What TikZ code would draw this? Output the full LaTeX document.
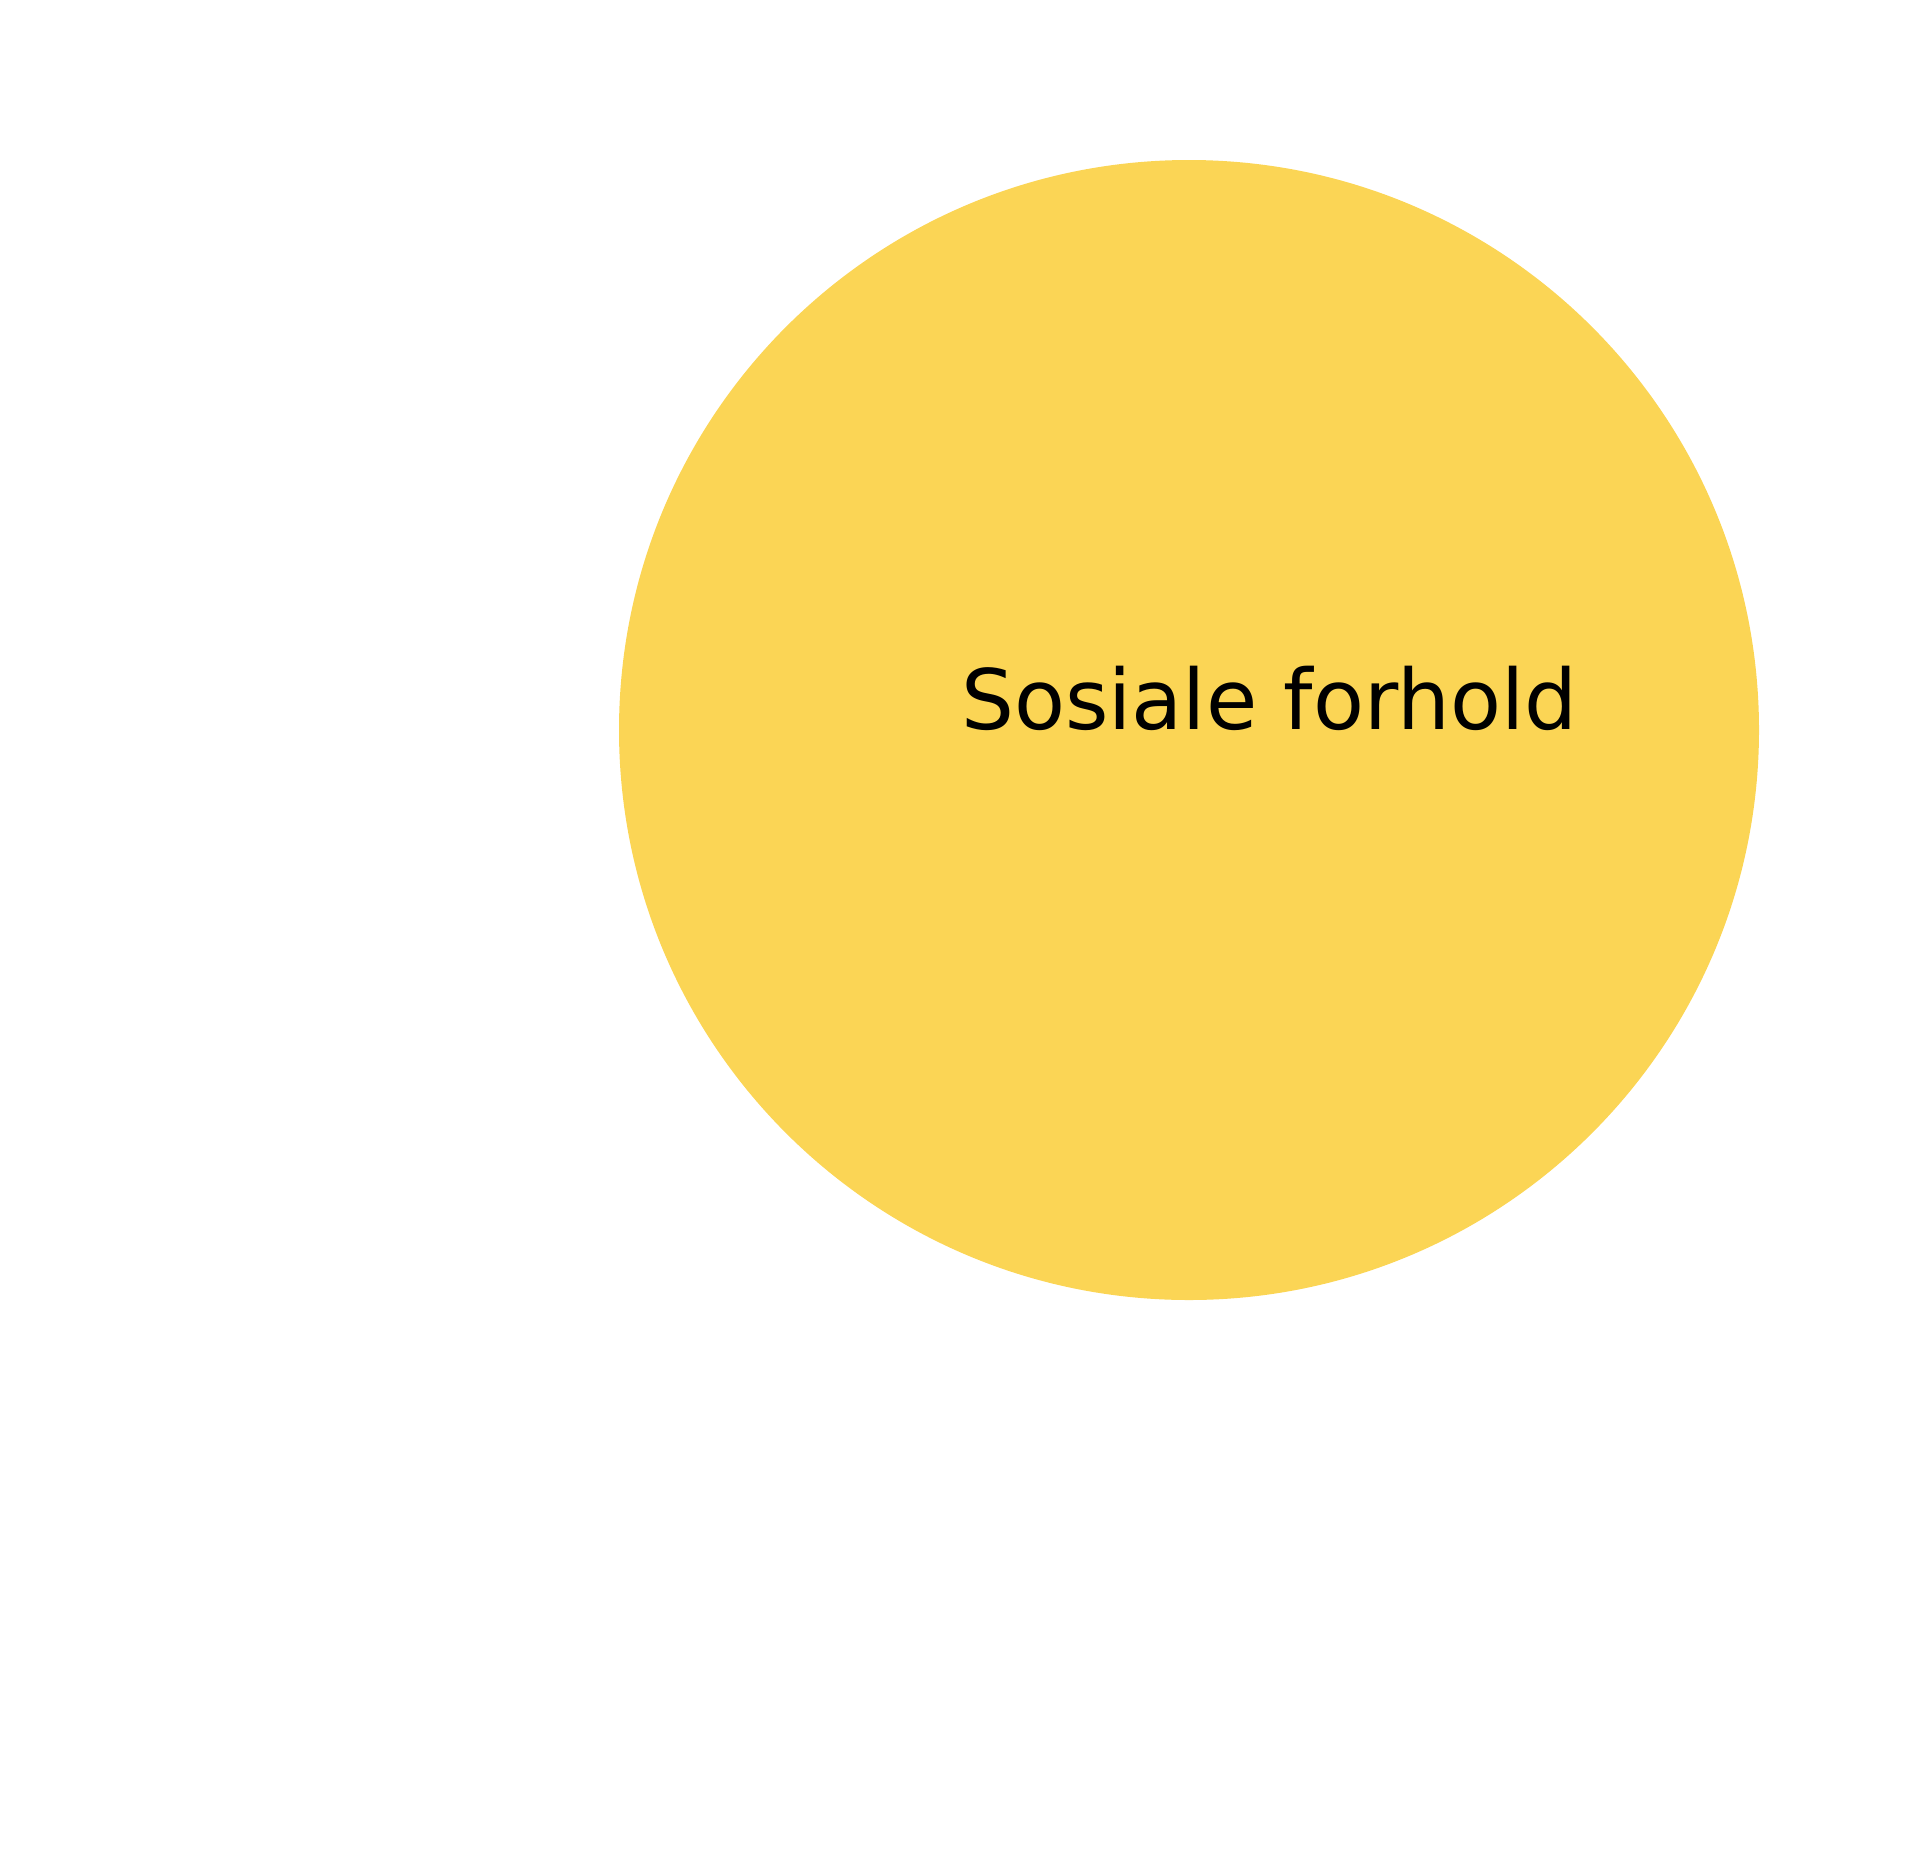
\documentclass[tikz,border=0pt]{standalone}
\usepackage{fontspec}
\setmainfont{DejaVu Sans}
\definecolor{sunyellow}{HTML}{FBD555}
\begin{document}
\begin{tikzpicture}[x=1pt,y=-1pt,
  bubble/.style={circle,fill=sunyellow,draw=none,minimum size=1140pt,inner sep=0pt},
  lbl/.style={anchor=base west,inner sep=0pt,font=\fontsize{83.4}{100}\selectfont,text=black}]
\useasboundingbox (0,0) rectangle (1919,1858);
\node[bubble] (c) at (1189,730) {};
\node[lbl] (t) at (961,729.5) {Sosiale forhold};
\end{tikzpicture}
\end{document}
